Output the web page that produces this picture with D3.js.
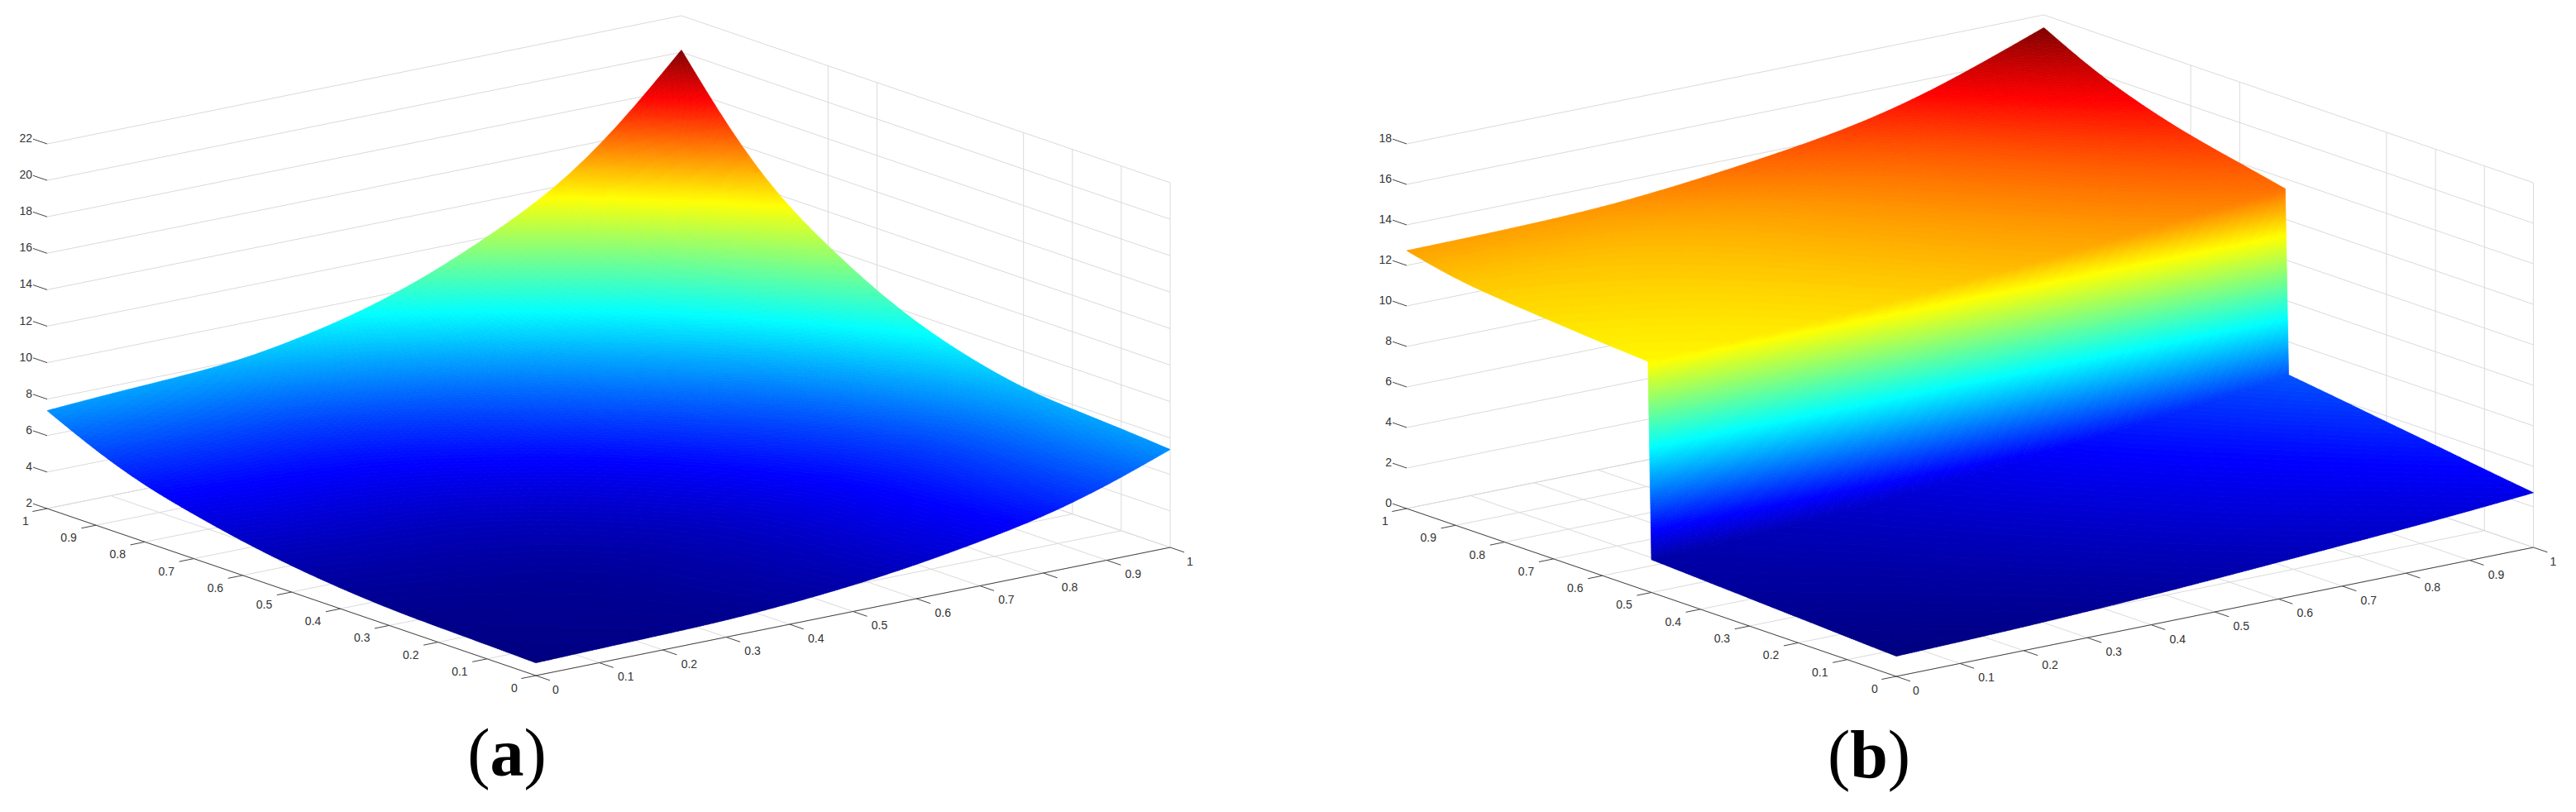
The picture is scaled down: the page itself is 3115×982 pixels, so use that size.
<!DOCTYPE html>
<html>
<head>
<meta charset="utf-8">
<title>Surfaces</title>
<script src="https://d3js.org/d3.v7.min.js"></script>
<style>
  html, body { margin: 0; padding: 0; background: #fff; }
  svg { display: block; }
  text { font-family: "Liberation Sans", Arial, sans-serif; fill: #333; }
  .caption text, text.caption { font-family: "Liberation Serif", "Times New Roman", serif; fill: #000; }
</style>
</head>
<body>
<div class="chart"></div>
<script>
// tick values
var floorTicks = [0, 0.1, 0.2, 0.3, 0.4, 0.5, 0.6, 0.7, 0.8, 0.9, 1];
var floorTickLabels = ["0", "0.1", "0.2", "0.3", "0.4", "0.5", "0.6", "0.7", "0.8", "0.9", "1"];
var zTicksA = [2, 4, 6, 8, 10, 12, 14, 16, 18, 20, 22];
var zTicksB = [0, 2, 4, 6, 8, 10, 12, 14, 16, 18];

// only these verticals of the right wall show up in the picture
var wallVerticals = [0, 0.1, 0.2, 0.3, 0.6, 0.7];

// surface grid
var uGrid = [0, 0.1, 0.2, 0.3, 0.4, 0.5, 0.6, 0.7, 0.8, 0.9, 1];
var vGridA = [0, 0.1, 0.2, 0.3, 0.4, 0.5, 0.6, 0.7, 0.8, 0.9, 1];
var vGridB = [0, 0.1, 0.2, 0.3, 0.4, 0.5, 0.507, 0.6, 0.7, 0.8, 0.9, 1];

// one row per v, one column per u
var surfaceA = [
  [2.70, 2.78, 2.84, 2.92, 3.13, 3.43, 3.86, 4.43, 5.08, 6.08, 7.37],
  [2.78, 2.86, 2.92, 3.00, 3.23, 3.53, 3.98, 4.56, 5.23, 6.26, 7.59],
  [2.84, 2.92, 2.98, 3.06, 3.29, 3.60, 4.05, 4.65, 5.33, 6.38, 7.74],
  [2.92, 3.00, 3.06, 3.15, 3.38, 3.70, 4.17, 4.78, 5.48, 6.56, 7.96],
  [3.13, 3.23, 3.29, 3.38, 3.63, 3.98, 4.48, 5.14, 5.89, 7.05, 8.55],
  [3.43, 3.53, 3.60, 3.70, 3.98, 4.35, 4.90, 5.62, 6.45, 7.72, 9.36],
  [3.86, 3.98, 4.05, 4.17, 4.48, 4.90, 5.52, 6.33, 7.26, 8.69, 10.54],
  [4.43, 4.56, 4.65, 4.78, 5.14, 5.62, 6.33, 7.26, 8.33, 9.96, 12.09],
  [5.08, 5.23, 5.33, 5.48, 5.89, 6.45, 7.26, 8.33, 9.54, 11.42, 13.86],
  [6.08, 6.26, 6.38, 6.56, 7.05, 7.72, 8.69, 9.96, 11.42, 13.67, 16.58],
  [7.37, 7.59, 7.74, 7.96, 8.55, 9.36, 10.54, 12.09, 13.86, 16.58, 20.12]
];

var surfaceB = [
  [1.00, 1.08, 1.17, 1.30, 1.45, 1.63, 1.82, 2.02, 2.22, 2.44, 2.70],
  [1.12, 1.21, 1.31, 1.46, 1.62, 1.83, 2.04, 2.26, 2.49, 2.73, 3.02],
  [1.25, 1.35, 1.46, 1.63, 1.81, 2.04, 2.28, 2.53, 2.78, 3.05, 3.38],
  [1.37, 1.48, 1.60, 1.78, 1.99, 2.23, 2.49, 2.77, 3.04, 3.34, 3.70],
  [1.50, 1.62, 1.76, 1.95, 2.18, 2.45, 2.73, 3.03, 3.33, 3.66, 4.05],
  [1.62, 1.75, 1.90, 2.11, 2.35, 2.64, 2.95, 3.27, 3.60, 3.95, 4.37],
  [11.35, 11.46, 11.57, 11.74, 11.91, 12.15, 12.38, 12.64, 12.90, 13.18, 13.50],
  [11.50, 11.60, 11.71, 11.88, 12.07, 12.32, 12.59, 12.88, 13.20, 13.58, 14.00],
  [11.70, 11.79, 11.88, 12.04, 12.24, 12.51, 12.79, 13.11, 13.49, 13.97, 14.50],
  [11.90, 11.97, 12.06, 12.21, 12.42, 12.72, 13.03, 13.40, 13.88, 14.51, 15.20],
  [12.15, 12.20, 12.28, 12.41, 12.64, 12.97, 13.32, 13.76, 14.36, 15.19, 16.10],
  [12.73, 12.75, 12.80, 12.90, 13.15, 13.50, 13.90, 14.40, 15.15, 16.20, 17.37]
];

// jet colormap
var jetStops = [0, 0.125, 0.375, 0.625, 0.875, 1];
var jetColors = ["#000080", "#0000ff", "#00ffff", "#ffff00", "#ff0000", "#800000"];
var colorLevels = 255;

var svgWidth = 3115;
var svgHeight = 982;

var svg = d3.select(".chart")
  .append("svg")
  .attr("width", svgWidth)
  .attr("height", svgHeight);

// front / left / right floor corners and the top of the z axis on screen
// vParts: row ranges that get smoothed on their own, so the cliff in (b) stays sharp
var panelA = {
  front: [648, 817], left: [57, 615], right: [1415, 662], zTopPx: 441,
  zTicks: zTicksA, vGrid: vGridA, surface: surfaceA, vParts: [[0, 10]],
  caption: "a", captionX: 613, captionY: 938
};
var panelB = {
  front: [2293, 818], left: [1701, 615], right: [3063.5, 662], zTopPx: 441,
  zTicks: zTicksB, vGrid: vGridB, surface: surfaceB, vParts: [[0, 5], [6, 11]],
  caption: "b", captionX: 2260, captionY: 940
};

// 4 sub steps between table values, only for a smoother mesh on screen
var refineSteps = 4;

function refineLine(values) {
  var spline = d3.interpolateBasis(values);
  var n = (values.length - 1) * refineSteps;
  return d3.range(n + 1).map(function(k) { return spline(k / n); });
}

function refineSurface(p) {
  var rows = p.surface.map(refineLine);
  var out = [];
  var vOut = [];
  p.vParts.forEach(function(part) {
    var vSpline = refineLine(p.vGrid.slice(part[0], part[1] + 1));
    var colSplines = d3.range(rows[0].length).map(function(c) {
      return refineLine(rows.slice(part[0], part[1] + 1).map(function(r) { return r[c]; }));
    });
    vSpline.forEach(function(v, k) {
      vOut.push(v);
      out.push(colSplines.map(function(c) { return c[k]; }));
    });
  });
  return { v: vOut, z: out, u: refineLine(uGrid) };
}

function drawPanel(p) {
  var g = svg.append("g");

  // the oblique projection is just the sum of three linear scales
  var xU = d3.scaleLinear().domain([0, 1]).range([0, p.right[0] - p.front[0]]);
  var yU = d3.scaleLinear().domain([0, 1]).range([0, p.right[1] - p.front[1]]);
  var xV = d3.scaleLinear().domain([0, 1]).range([0, p.left[0] - p.front[0]]);
  var yV = d3.scaleLinear().domain([0, 1]).range([0, p.left[1] - p.front[1]]);
  var yZ = d3.scaleLinear()
    .domain([p.zTicks[0], p.zTicks[p.zTicks.length - 1]])
    .range([0, -p.zTopPx]);

  function project(u, v, z) {
    return [
      p.front[0] + xU(u) + xV(v),
      p.front[1] + yU(u) + yV(v) + yZ(z)
    ];
  }

  var zBase = p.zTicks[0];
  var zTop = p.zTicks[p.zTicks.length - 1];
  var lineGen = d3.line();

  function gridLine(a, b) {
    g.append("path")
      .attr("d", lineGen([a, b]))
      .attr("fill", "none")
      .attr("stroke", "#dadada")
      .attr("stroke-width", 1);
  }

  function axisLine(a, b) {
    g.append("path")
      .attr("d", lineGen([a, b]))
      .attr("fill", "none")
      .attr("stroke", "#444")
      .attr("stroke-width", 1);
  }

  // walls and floor grid
  p.zTicks.forEach(function(z) {
    gridLine(project(0, 1, z), project(1, 1, z));
    gridLine(project(1, 1, z), project(1, 0, z));
  });
  wallVerticals.forEach(function(v) {
    gridLine(project(1, v, zBase), project(1, v, zTop));
  });
  floorTicks.forEach(function(t) {
    gridLine(project(t, 0, zBase), project(t, 1, zBase));
    gridLine(project(0, t, zBase), project(1, t, zBase));
  });

  // surface
  var zs = p.surface.reduce(function(a, row) { return a.concat(row); }, []);
  var zMin = d3.min(zs);
  var zMax = d3.max(zs);
  var colorScale = d3.scaleLinear()
    .domain(jetStops.map(function(t) { return zMin + t * (zMax - zMin); }))
    .range(jetColors);
  var levelScale = d3.scaleLinear().domain([zMin, zMax]).rangeRound([0, colorLevels]);
  var levelToZ = d3.scaleLinear().domain([0, colorLevels]).range([zMin, zMax]);

  // quads are merged per colour level, it keeps the svg small
  var buckets = {};
  var mesh = refineSurface(p);
  var surf = mesh.z;
  var f = function(n) { return n.toFixed(1); };

  for (var j = 0; j < mesh.v.length - 1; j++) {
    for (var i = 0; i < mesh.u.length - 1; i++) {
      var u0 = mesh.u[i], u1 = mesh.u[i + 1], v0 = mesh.v[j], v1 = mesh.v[j + 1];
      var z00 = surf[j][i], z10 = surf[j][i + 1], z01 = surf[j + 1][i], z11 = surf[j + 1][i + 1];

      var c00 = project(u0, v0, z00), c10 = project(u1, v0, z10);
      var c01 = project(u0, v1, z01), c11 = project(u1, v1, z11);
      var lenU = Math.max(Math.hypot(c10[0] - c00[0], c10[1] - c00[1]), Math.hypot(c11[0] - c01[0], c11[1] - c01[1]));
      var lenV = Math.max(Math.hypot(c01[0] - c00[0], c01[1] - c00[1]), Math.hypot(c11[0] - c10[0], c11[1] - c10[1]));
      var nu = Math.max(1, Math.ceil(lenU / 3));
      var nv = Math.max(1, Math.ceil(lenV / 3));

      var at = function(a, b) {
        var z = (1 - a) * (1 - b) * z00 + a * (1 - b) * z10 + (1 - a) * b * z01 + a * b * z11;
        return { p: project(u0 + (u1 - u0) * a, v0 + (v1 - v0) * b, z), z: z };
      };

      for (var b = 0; b < nv; b++) {
        for (var a = 0; a < nu; a++) {
          var q00 = at(a / nu, b / nv), q10 = at((a + 1) / nu, b / nv);
          var q11 = at((a + 1) / nu, (b + 1) / nv), q01 = at(a / nu, (b + 1) / nv);
          var level = levelScale((q00.z + q10.z + q11.z + q01.z) / 4);
          var d = "M" + f(q00.p[0]) + "," + f(q00.p[1]) +
            "L" + f(q10.p[0]) + "," + f(q10.p[1]) +
            "L" + f(q11.p[0]) + "," + f(q11.p[1]) +
            "L" + f(q01.p[0]) + "," + f(q01.p[1]) + "Z";
          (buckets[level] = buckets[level] || []).push(d);
        }
      }
    }
  }

  g.append("g")
    .attr("class", "surface")
    .selectAll("path")
    .data(Object.keys(buckets))
    .enter()
    .append("path")
    .attr("d", function(d) { return buckets[d].join(""); })
    .attr("fill", function(d) { return colorScale(levelToZ(+d)); })
    .attr("stroke", function(d) { return colorScale(levelToZ(+d)); })
    .attr("stroke-width", 0.7)
    .attr("stroke-linejoin", "round");

  // axes on top
  axisLine(project(0, 0, zBase), project(1, 0, zBase));
  axisLine(project(0, 0, zBase), project(0, 1, zBase));

  var tickLen = 18;
  var lenUdir = Math.hypot(xU(1), yU(1));
  var lenVdir = Math.hypot(xV(1), yV(1));
  var uTick = [xU(1) / lenUdir * tickLen, yU(1) / lenUdir * tickLen];
  var vTick = [xV(1) / lenVdir * tickLen, yV(1) / lenVdir * tickLen];

  function tickLabel(x, y, s, anchor) {
    g.append("text")
      .attr("x", x)
      .attr("y", y)
      .attr("dy", "0.35em")
      .attr("text-anchor", anchor)
      .attr("font-size", 14)
      .text(s);
  }

  floorTicks.forEach(function(t, k) {
    // ticks along the u axis point away from the left corner
    var pu = project(t, 0, zBase);
    axisLine(pu, [pu[0] - vTick[0], pu[1] - vTick[1]]);
    tickLabel(pu[0] + (k === 0 || k === 10 ? 24 : 32), pu[1] + 17, floorTickLabels[k], "middle");

    // ticks along the v axis point away from the right corner
    var pv = project(0, t, zBase);
    axisLine(pv, [pv[0] - uTick[0], pv[1] - uTick[1]]);
    tickLabel(pv[0] - (k === 0 || k === 10 ? 26 : 33), pv[1] + 15, floorTickLabels[k], "middle");
  });

  p.zTicks.forEach(function(z) {
    var pz = project(0, 1, z);
    axisLine(pz, [pz[0] + vTick[0], pz[1] + vTick[1]]);
    tickLabel(pz[0] + vTick[0] - 1, pz[1] + vTick[1] - 1, String(z), "end");
  });

  // caption, parens regular and the letter bold
  var cap = g.append("text")
    .attr("class", "caption")
    .attr("x", p.captionX)
    .attr("y", p.captionY)
    .attr("text-anchor", "middle")
    .attr("font-size", 82);
  cap.append("tspan").text("(");
  cap.append("tspan").attr("font-weight", "bold").text(p.caption);
  cap.append("tspan").text(")");
}

drawPanel(panelA);
drawPanel(panelB);
</script>
</body>
</html>
